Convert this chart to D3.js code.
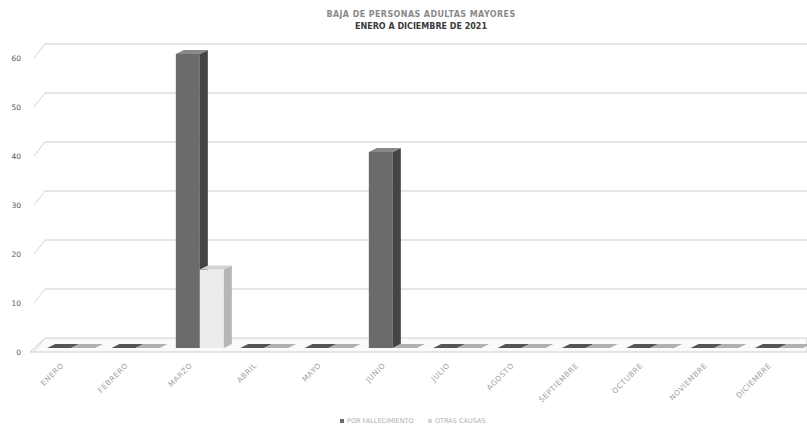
<!DOCTYPE html>
<html>
<head>
<meta charset="utf-8">
<script src="https://cdn.jsdelivr.net/npm/d3@7"></script>
<style>
  body { margin: 0; background: #fff; }
  svg { display: block; font-family: "DejaVu Sans", sans-serif; }
</style>
</head>
<body>
<div id="chart"></div>
<script>
// data
const months = ["ENERO", "FEBRERO", "MARZO", "ABRIL", "MAYO", "JUNIO", "JULIO",
                "AGOSTO", "SEPTIEMBRE", "OCTUBRE", "NOVIEMBRE", "DICIEMBRE"];
const seriesNames = ["POR FALLECIMIENTO", "OTRAS CAUSAS"];
const serie1 = [0, 0, 60, 0, 0, 40, 0, 0, 0, 0, 0, 0];
const serie2 = [0, 0, 16, 0, 0, 0, 0, 0, 0, 0, 0, 0];
const yTicks = [0, 10, 20, 30, 40, 50, 60];

function drawChart() {
    let w = 807;
    let h = 430;
    // depth of the floor / back wall and of each column
    let wallDx = 15, wallDy = 14;
    let barDx = 8, barDy = 4;
    let baseOff = 4; // bars sit a little behind the front edge

    let svg = d3.select("#chart")
                .append("svg")
                .attr("width", w)
                .attr("height", h);

    let y = d3.scaleLinear().domain([0, 60]).range([352, 58]);
    let x = d3.scaleBand().domain(months).range([40, 812]);
    let xs = d3.scaleBand().domain([0, 1]).range([0, 48]);

    // title
    svg.append("text")
        .attr("x", 421).attr("y", 17)
        .attr("text-anchor", "middle")
        .style("font-size", "8px")
        .style("font-weight", "bold")
        .style("letter-spacing", "0.4px")
        .style("fill", "#8a8a8a")
        .text("BAJA DE PERSONAS ADULTAS MAYORES");
    svg.append("text")
        .attr("x", 421).attr("y", 29)
        .attr("text-anchor", "middle")
        .style("font-size", "8px")
        .style("font-weight", "bold")
        .style("fill", "#3a3a3a")
        .text("ENERO A DICIEMBRE DE 2021");

    // floor
    let x0 = 30;
    svg.append("path")
        .attr("d", `M${x0},${y(0)} L${w},${y(0)} L${w},${y(0) - wallDy} L${x0 + wallDx},${y(0) - wallDy} Z`)
        .attr("fill", "#fafafa")
        .attr("stroke", "#cfcfcf")
        .attr("stroke-width", 1);

    // gridlines on back wall + side wall diagonals
    let grid = svg.append("g");
    yTicks.forEach(t => {
        if (t > 0) {
            grid.append("line")
                .attr("x1", x0 + wallDx).attr("x2", w)
                .attr("y1", y(t) - wallDy).attr("y2", y(t) - wallDy)
                .attr("stroke", "#cdcdcd").attr("stroke-width", 1);
        }
        grid.append("line")
            .attr("x1", x0 + 4).attr("y1", y(t))
            .attr("x2", x0 + wallDx).attr("y2", y(t) - wallDy)
            .attr("stroke", "#d4d4d4").attr("stroke-width", 1);
        grid.append("text")
            .attr("x", 21).attr("y", y(t) + 3)
            .attr("text-anchor", "end")
            .style("font-size", "7.5px")
            .style("fill", "#555")
            .text(t);
    });

    // 3D columns
    let colors = [
        {front: "#6b6b6b", side: "#444444", top: "#888888"},
        {front: "#ececec", side: "#b5b5b5", top: "#d2d2d2"}
    ];
    let bars = svg.append("g");
    [serie1, serie2].forEach((serie, s) => {
        serie.forEach((v, i) => {
            let bx = x(months[i]) + (x.bandwidth() - 48) / 2 - 5 + xs(s) + baseOff;
            let bw = xs.bandwidth();
            let yb = y(0) - baseOff;
            let yt = y(v) - baseOff;
            let c = colors[s];
            if (v > 0) {
                bars.append("rect")
                    .attr("x", bx).attr("y", yt)
                    .attr("width", bw).attr("height", yb - yt)
                    .attr("fill", c.front);
                bars.append("path")
                    .attr("d", `M${bx + bw},${yt} L${bx + bw + barDx},${yt - barDy} L${bx + bw + barDx},${yb - barDy} L${bx + bw},${yb} Z`)
                    .attr("fill", c.side);
            }
            // top face (for zero values this is the flat sliver on the floor)
            bars.append("path")
                .attr("d", `M${bx},${yt} L${bx + barDx},${yt - barDy} L${bx + bw + barDx},${yt - barDy} L${bx + bw},${yt} Z`)
                .attr("fill", v > 0 ? c.top : (s == 0 ? "#555555" : "#b0b0b0"));
        });
    });

    // rotated month labels
    svg.append("g")
        .selectAll("text")
        .data(months)
        .enter()
        .append("text")
        .attr("transform", d => `translate(${x(d) + x.bandwidth() / 2 - 8},${y(0) + 14}) rotate(-45)`)
        .attr("text-anchor", "end")
        .style("font-size", "7.5px")
        .style("letter-spacing", "0.5px")
        .style("fill", "#a0a0a0")
        .text(d => d);

    // legend
    let legend = svg.append("g").attr("transform", "translate(340, 423)");
    let lx = 0;
    seriesNames.forEach((name, i) => {
        legend.append("rect")
            .attr("x", lx).attr("y", -4)
            .attr("width", 4).attr("height", 4)
            .attr("fill", i == 0 ? "#6b6b6b" : "#d6d6d6");
        legend.append("text")
            .attr("x", lx + 7).attr("y", 0)
            .style("font-size", "6.5px")
            .style("fill", "#b0b0b0")
            .text(name);
        lx += 88;
    });
}
drawChart();
</script>
</body>
</html>
